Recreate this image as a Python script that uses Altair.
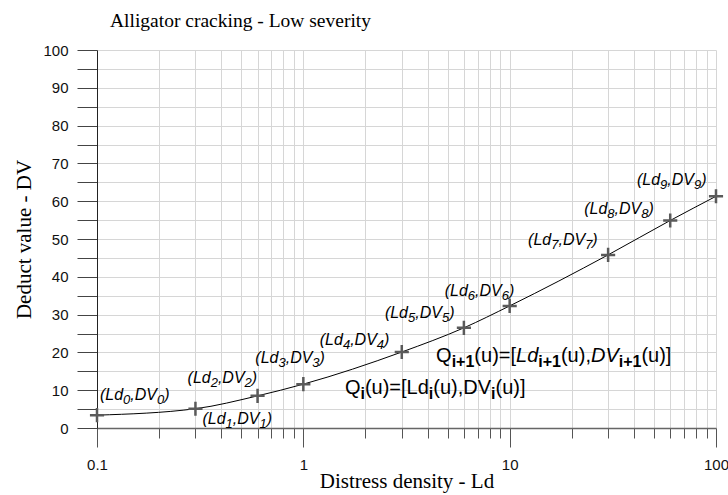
import altair as alt
import pandas as pd

# Deduct value curve for alligator cracking, low severity
ld = [0.1, 0.3, 0.6, 1, 3, 6, 10, 30, 60, 100]
dv = [3.4, 5.1, 8.5, 11.6, 20.1, 26.5, 32.3, 45.8, 54.9, 61.3]

# pixel offsets of each point label (left edge, vertical middle)
label_dx = [3, 7, -70, -48, -82, -79, -65, -80, -86, -79]
label_dy = [-20, 10, -18, -26, -12, -15, -15, -15, -11, -16]

# curve-segment formulas, anchored in data coordinates
formula_ld = [1.59, 4.4]
formula_dv = [10.7, 19.0]

x_ticks = [0.1, 0.2, 0.3, 0.4, 0.5, 0.6, 0.7, 0.8, 0.9,
           1, 2, 3, 4, 5, 6, 7, 8, 9,
           10, 20, 30, 40, 50, 60, 70, 80, 90, 100]
y_ticks = list(range(0, 101, 5))

# Arial / Liberation Sans advance widths (per 1000 em) for laying out
# text runs with real subscripts
ADV = {"(": 333, ")": 333, "L": 556, "d": 556, ",": 278, "D": 722, "V": 667,
       "Q": 778, "u": 556, "=": 584, "[": 278, "]": 278, "i": 222, "+": 584}
ADV_BOLD = {"i": 278, "+": 584}


def run_width(text, size, bold=False):
    w = 0
    for ch in text:
        if ch.isdigit():
            w += 556
        elif bold and ch in ADV_BOLD:
            w += ADV_BOLD[ch]
        else:
            w += ADV[ch]
    return w * size / 1000


def layout(runs, x, y, dx0, dy0, size, sub_size, sub_shift, sub_bold):
    """runs: list of (text, is_sub, italic)"""
    rows = []
    cur = dx0
    for text, is_sub, italic in runs:
        fs = sub_size if is_sub else size
        bold = sub_bold and is_sub
        rows.append({
            "ld": x, "dv": y, "t": text, "dx": cur,
            "dy": dy0 + (sub_shift if is_sub else 0), "fs": fs,
            "style": "italic" if italic else "normal",
            "weight": "bold" if bold else "normal",
        })
        cur += run_width(text, fs, bold)
    return rows


text_rows = []
for i, (x, y, ddx, ddy) in enumerate(zip(ld, dv, label_dx, label_dy)):
    s = str(i)
    runs = [("(Ld", False, True), (s, True, True), (",DV", False, True),
            (s, True, True), (")", False, True)]
    text_rows += layout(runs, x, y, ddx, ddy, 16, 13, 5, False)

q_i = [("Q", False, False), ("i", True, False), ("(u)=[Ld", False, False),
       ("i", True, False), ("(u),DV", False, False), ("i", True, False),
       ("(u)]", False, False)]
q_i1 = [("Q", False, False), ("i+1", True, False), ("(u)=[", False, False),
        ("Ld", False, True), ("i+1", True, False), ("(u),", False, False),
        ("DV", False, True), ("i+1", True, False), ("(u)]", False, False)]
text_rows += layout(q_i, formula_ld[0], formula_dv[0], 0, 0, 20, 16, 6, True)
text_rows += layout(q_i1, formula_ld[1], formula_dv[1], 0, 0, 20, 16, 6, True)

pts = pd.DataFrame({"ld": ld, "dv": dv})
texts = pd.DataFrame(text_rows)

major_test = "abs(log(datum.value)/LN10 - round(log(datum.value)/LN10)) < 0.001"

x_enc = alt.X(
    "ld:Q",
    scale=alt.Scale(type="log", domain=[0.1, 100]),
    axis=alt.Axis(
        values=x_ticks,
        format="~g",
        labelExpr=f"({major_test}) ? datum.label : ''",
        labelOverlap=False,
        labelFlush=False,
        tickSize={"condition": {"test": major_test, "value": 19}, "value": 10},
        tickColor="#555",
        domainColor="#666",
        domainWidth=1.5,
        grid=True,
        gridColor="#d6d6d6",
        labelFont="Liberation Sans",
        labelFontSize=15,
        labelColor="#111",
        labelPadding=10,
        title="Distress density - Ld",
        titleFont="Liberation Serif",
        titleFontSize=21,
        titleFontWeight="normal",
        titleColor="black",
        titleBaseline="alphabetic",
        titleY=59,
    ),
)
y_enc = alt.Y(
    "dv:Q",
    scale=alt.Scale(domain=[0, 100]),
    axis=alt.Axis(
        values=y_ticks,
        labelExpr="datum.value % 10 == 0 ? datum.label : ''",
        labelOverlap=False,
        tickSize=20,
        tickColor="#444",
        domainColor="#222",
        grid=True,
        gridColor="#d6d6d6",
        labelFont="Liberation Sans",
        labelFontSize=15,
        labelColor="#111",
        labelPadding=9,
        title="Deduct value - DV",
        titleFont="Liberation Serif",
        titleFontSize=21,
        titleFontWeight="normal",
        titleColor="black",
        titleBaseline="alphabetic",
        titleX=-67,
    ),
)

curve = alt.Chart(pts).mark_line(
    interpolate="monotone", color="black", strokeWidth=1
).encode(x=x_enc, y=y_enc)

crosses = alt.Chart(pts).mark_point(
    shape="M-1,0L1,0M0,-1L0,1", filled=False, stroke="#5a5a5a",
    strokeWidth=2.5, size=200, opacity=1,
).encode(x=x_enc, y=y_enc)

labels = alt.Chart(texts).mark_text(
    align="left", baseline="middle", font="Liberation Sans", color="black",
    dx=alt.ExprRef(expr="datum.dx"), dy=alt.ExprRef(expr="datum.dy"),
    fontStyle=alt.ExprRef(expr="datum.style"),
    fontWeight=alt.ExprRef(expr="datum.weight"),
).encode(
    x=x_enc, y=y_enc, text="t:N",
    size=alt.Size("fs:Q", scale=None, legend=None),
)

chart = alt.layer(curve, crosses, labels).properties(
    width=619,
    height=378,
    autosize=alt.AutoSizeParams(type="none"),
    padding={"left": 97, "top": 50, "right": 12, "bottom": 67},
    title=alt.TitleParams(
        "Alligator cracking - Low severity", anchor="start", frame="group",
        dx=13, font="Liberation Serif", fontSize=19.5, fontWeight="normal",
        color="black", offset=12,
    ),
).configure_view(stroke=None)

chart.save("out.html", embed_options={"renderer": "svg", "actions": False})
